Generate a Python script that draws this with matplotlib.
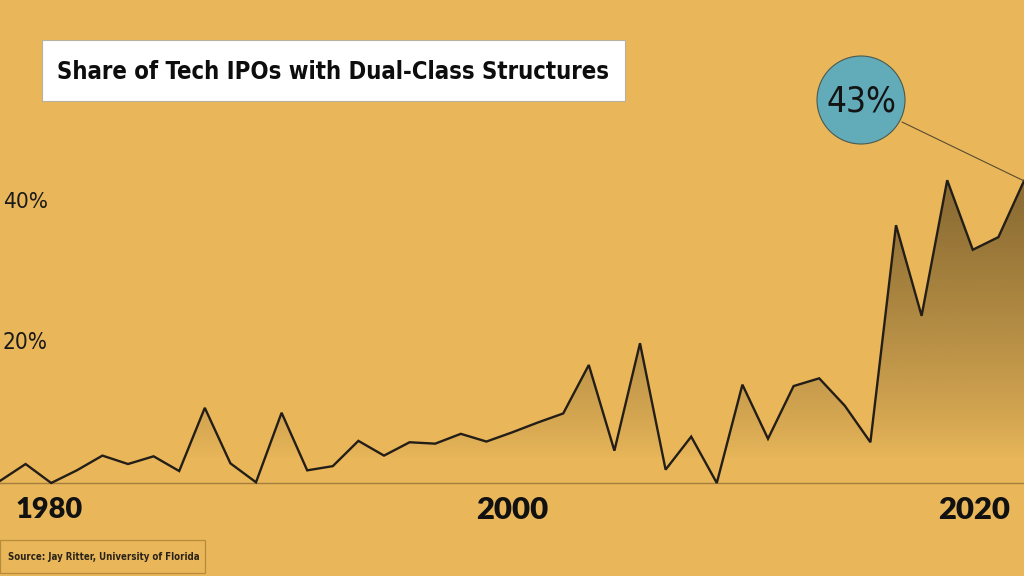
import numpy as np
import matplotlib
matplotlib.use("Agg")
import matplotlib.pyplot as plt
from matplotlib import font_manager as fm
from matplotlib.patches import Rectangle, Circle, ConnectionPatch
from matplotlib.colors import to_rgb

# ---------------- data ----------------
years = list(range(1980, 2021))
share_pct = [0.3, 2.7, 0.0, 1.8, 3.9, 2.7, 3.8, 1.7, 10.7, 2.8,
             0.1, 10.0, 1.8, 2.4, 6.0, 3.9, 5.8, 5.6, 7.0, 5.9,
             7.2, 8.6, 9.9, 16.8, 4.6, 19.9, 1.9, 6.6, 0.0, 14.0,
             6.3, 13.8, 14.9, 11.0, 5.8, 36.7, 23.8, 43.1, 33.2, 35.0,
             43.0]
ytick_vals = [20, 40]
ytick_labels = ["20%", "40%"]
xtick_years = [1980, 2000, 2020]
xtick_labels = ["1980", "2000", "2020"]
title = "Share of Tech IPOs with Dual-Class Structures"
callout = "43%"
source = "Source: Jay Ritter, University of Florida"

# ---------------- styles ----------------
BG = "#e9b75a"
LINE = "#231e18"
TEAL = "#62abb8"
W, H, DPI = 1024, 576, 100


def pick_font(bold):
    """Find a condensed / narrow font if one is installed."""
    cands = []
    for f in fm.fontManager.ttflist:
        name = f.name.lower()
        st = str(f.stretch).lower()
        narrow = ("narrow" in name or "condensed" in name or
                  st in ("condensed", "semi-condensed", "extra-condensed"))
        if not narrow:
            continue
        w = f.weight if isinstance(f.weight, int) else {"bold": 700, "normal": 400, "regular": 400}.get(str(f.weight).lower(), 400)
        if "italic" in str(f.style).lower() or "oblique" in str(f.style).lower():
            continue
        score = abs(w - (700 if bold else 400))
        cands.append((score, f.fname))
    if cands:
        cands.sort()
        return fm.FontProperties(fname=cands[0][1])
    return fm.FontProperties(family="DejaVu Sans", weight="bold" if bold else "normal")


cond_bold = pick_font(True)
cond_reg = pick_font(False)

fig = plt.figure(figsize=(W / DPI, H / DPI), dpi=DPI, facecolor=BG)
ax = fig.add_axes([0, 0, 1, 1])
ax.set_facecolor(BG)
ax.set_xlim(1980, 2020)
# 0% at 483 px from top, 7.025 px per percent
ppp = 7.025
ax.set_ylim(-(H - 483) / ppp, 483 / ppp)
ax.axis("off")

# baseline
ax.axhline(0, color="#a57d3c", lw=1.0, zorder=2)

# gradient fill clipped to area under curve
poly = ax.fill_between(years, share_pct, 0, facecolor="none", edgecolor="none")
ny = 400
yy = np.linspace(0, 45, ny)
alpha = np.clip((yy - 3.5) / 36.0, 0, 1) ** 0.8 * 0.52
dark = np.array(to_rgb("#3a2b12"))
img = np.zeros((ny, 2, 4))
img[..., :3] = dark
img[..., 3] = alpha[:, None]
im = ax.imshow(img, extent=[1980, 2020, 0, 45], origin="lower", aspect="auto",
               interpolation="bilinear", zorder=1)
im.set_clip_path(poly.get_paths()[0], transform=ax.transData)

# line
ax.plot(years, share_pct, color=LINE, lw=1.7, solid_joinstyle="miter", zorder=3)

fig.canvas.draw()
renderer = fig.canvas.get_renderer()


def fit_text(x_px, y_px_top, s, fp, target_w, ha="center", color="#111111", base=20):
    t = fig.text(x_px / W, 1 - y_px_top / H, s, fontproperties=fp, fontsize=base,
                 ha=ha, va="center", color=color, zorder=10)
    w = t.get_window_extent(renderer).width
    t.set_fontsize(base * target_w / w)
    return t


# title box
fig.patches.append(Rectangle((42 / W, 1 - 101 / H), (625 - 42) / W, 61 / H,
                             transform=fig.transFigure, facecolor="white",
                             edgecolor="#b8b0a0", lw=0.8, zorder=5))
fit_text(333, 72, title, cond_bold, 555, color="#0d0d0d")

# y labels
for v, lab in zip(ytick_vals, ytick_labels):
    ypx = 483 - v * ppp
    fit_text(3, ypx, lab, cond_reg, 45, ha="left", color="#1a1a1a")

# x labels
xfp = fm.FontProperties(family=["Lato", "DejaVu Sans"], weight="heavy")
for yr, lab in zip(xtick_years, xtick_labels):
    if yr == xtick_years[0]:
        fit_text(15, 510, lab, xfp, 67, ha="left", color="#111111")
    elif yr == xtick_years[-1]:
        fit_text(1010, 510, lab, xfp, 72, ha="right", color="#111111")
    else:
        xpx = (yr - 1980) / 40 * W
        fit_text(xpx, 510, lab, xfp, 72, ha="center", color="#111111")

# callout circle
cx, cy, r = 861, 100, 44
circ = Circle((cx / DPI, (H - cy) / DPI), r / DPI, transform=fig.dpi_scale_trans,
              facecolor=TEAL, edgecolor="#4a5a50", lw=0.8, zorder=6)
fig.patches.append(circ)
fit_text(861, 101, callout, cond_reg, 70, color="#141414")
con = ConnectionPatch(xyA=(years[-1], share_pct[-1]), coordsA=ax.transData,
                      xyB=(902 / DPI, (H - 122) / DPI), coordsB=fig.dpi_scale_trans,
                      color="#5a4a30", lw=0.8, zorder=4)
fig.add_artist(con)

# source box
fig.patches.append(Rectangle((0, 1 - 573 / H), 205 / W, 33 / H,
                             transform=fig.transFigure, facecolor="none",
                             edgecolor="#b88a3c", lw=0.9, zorder=5))
fit_text(8, 557, source, cond_bold, 190, ha="left", color="#2a2218")

fig.savefig("out.png", dpi=DPI, facecolor=BG)
